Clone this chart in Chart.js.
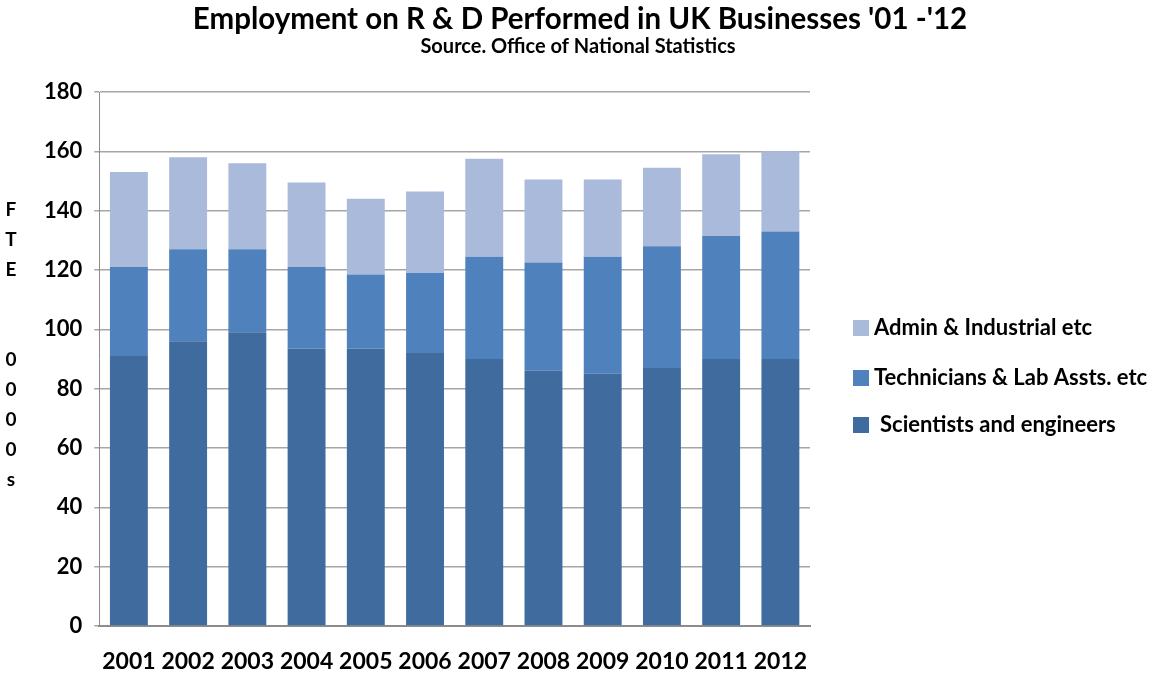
<!DOCTYPE html>
<html>
<head>
<meta charset="utf-8">
<script src="https://cdn.jsdelivr.net/npm/chart.js@4.4.1/dist/chart.umd.min.js"></script>
<style>
  html, body { margin: 0; padding: 0; background: #fff; }
  #wrap { width: 1176px; height: 673px; }
</style>
</head>
<body>
<div id="wrap"><canvas id="rdChart" width="1176" height="673"></canvas></div>
<script>
const years = ['2001', '2002', '2003', '2004', '2005', '2006', '2007', '2008', '2009', '2010', '2011', '2012'];
// FTE in thousands, stacked from the bottom up
const scientists = [91, 96, 99, 93.5, 93.5, 92, 90, 86, 85, 87, 90, 90];
const technicians = [30, 31, 28, 27.5, 25, 27, 34.5, 36.5, 39.5, 41, 41.5, 43];
const admin = [32, 31, 29, 28.5, 25.5, 27.5, 33, 28, 26, 26.5, 27.5, 27];
const yTicks = [0, 20, 40, 60, 80, 100, 120, 140, 160, 180];
const axisLetters = ['F', 'T', 'E', '', '', '0', '0', '0', '0', 's'];

const titleText = "Employment on R & D Performed in UK Businesses '01 -'12";
const subtitleText = 'Source. Office of National Statistics';

const FONT = 'Lato, "Open Sans", sans-serif';

// heading, centred over plot + legend block
const heading = {
  id: 'heading',
  afterDraw(chart) {
    const ctx = chart.ctx;
    ctx.save();
    ctx.fillStyle = '#000';
    ctx.textAlign = 'center';
    ctx.textBaseline = 'middle';
    ctx.font = 'bold 29.5px ' + FONT;
    ctx.fillText(titleText, 580, 19);
    ctx.font = 'bold 20px ' + FONT;
    ctx.fillText(subtitleText, 578, 47);
    ctx.restore();
  }
};

// vertical "FTE 0000s" label down the left edge
const sideLabel = {
  id: 'sideLabel',
  afterDraw(chart) {
    const ctx = chart.ctx;
    ctx.save();
    ctx.font = 'bold 19px ' + FONT;
    ctx.fillStyle = '#000';
    ctx.textAlign = 'center';
    ctx.textBaseline = 'middle';
    axisLetters.forEach((ch, i) => {
      ctx.fillText(ch, 11, 210 + i * 30);
    });
    ctx.restore();
  }
};

// legend to the right of the plot, top entry = top of the stack
const sideLegend = {
  id: 'sideLegend',
  afterDraw(chart) {
    const ctx = chart.ctx;
    const x = chart.chartArea.right + 43;
    const rows = [328, 378, 425];
    const sets = chart.data.datasets.slice().reverse();
    ctx.save();
    ctx.font = 'bold 22px ' + FONT;
    ctx.textBaseline = 'middle';
    sets.forEach((ds, i) => {
      ctx.fillStyle = ds.backgroundColor;
      ctx.fillRect(x, rows[i] - 8, 16, 16);
      ctx.fillStyle = '#000';
      ctx.fillText(ds.label, x + (i === 2 ? 27 : 21), rows[i]);
    });
    ctx.restore();
  }
};

const ctx = document.getElementById('rdChart').getContext('2d');
new Chart(ctx, {
  type: 'bar',
  data: {
    labels: years,
    datasets: [
      { label: 'Scientists and engineers', data: scientists, backgroundColor: '#3F6B9E' },
      { label: 'Technicians & Lab Assts. etc', data: technicians, backgroundColor: '#4F81BD' },
      { label: 'Admin & Industrial etc', data: admin, backgroundColor: '#AABADA' }
    ]
  },
  options: {
    responsive: false,
    animation: false,
    layout: { padding: { left: 32, right: 366, top: 92, bottom: 0 } },
    datasets: { bar: { barPercentage: 0.64, categoryPercentage: 1 } },
    scales: {
      x: {
        stacked: true,
        grid: { display: false },
        border: { color: '#8C8C8C', width: 2 },
        ticks: {
          color: '#000',
          font: { family: FONT, size: 23, weight: 'bold' },
          padding: 14,
          maxRotation: 0,
          minRotation: 0,
          autoSkip: false
        },
        afterFit(scale) { scale.height = 47; }
      },
      y: {
        stacked: true,
        min: 0,
        max: 180,
        afterBuildTicks(axis) { axis.ticks = yTicks.map(v => ({ value: v })); },
        grid: { color: '#A6A6A6', lineWidth: 1.5, tickLength: 5 },
        border: { color: '#8C8C8C', width: 1 },
        ticks: { color: '#000', font: { family: FONT, size: 22, weight: 'bold' }, padding: 12 }
      }
    },
    plugins: {
      title: { display: false },
      legend: { display: false },
      tooltip: { enabled: false }
    }
  },
  plugins: [heading, sideLabel, sideLegend]
});
</script>
</body>
</html>
